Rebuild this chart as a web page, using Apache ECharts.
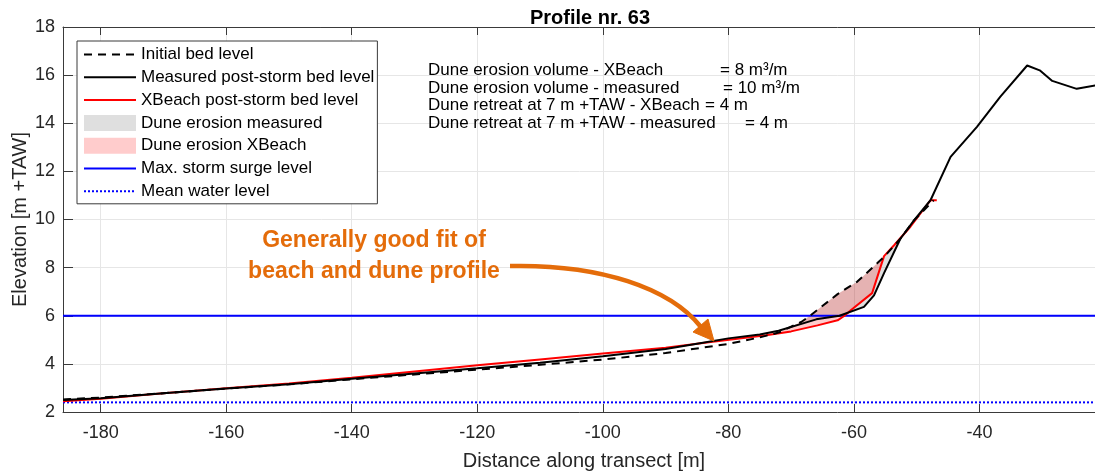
<!DOCTYPE html>
<html>
<head>
<meta charset="utf-8">
<script src="https://cdn.jsdelivr.net/npm/echarts@6/dist/echarts.min.js"></script>
<style>
html,body{margin:0;padding:0;background:#fff;}
#chart{width:1095px;height:474px;}
</style>
</head>
<body>
<div id="chart"></div>
<script>
// ---------- data ----------
const titleText = 'Profile nr. 63';
const xAxisName = 'Distance along transect [m]';
const yAxisName = 'Elevation [m +TAW]';
const xMin = -186, xMax = -20;
const yMin = 2, yMax = 18, yStep = 2;

const initialDist = [-186, -180, -170, -160, -150, -140, -130, -120, -110, -100, -90, -80, -75, -72, -68.4, -67, -62.6, -59.5, -56.3, -55, -52.6, -50.4, -47.3];
const initialElev = [2.52, 2.6, 2.78, 2.97, 3.15, 3.36, 3.56, 3.76, 3.96, 4.18, 4.45, 4.83, 5.1, 5.3, 5.74, 6.0, 6.9, 7.41, 8.18, 8.5, 9.2, 9.97, 10.8];

const measuredDist = [-186, -180, -170, -160, -150, -140, -130, -120, -110, -100, -90, -85, -80, -75, -72, -66, -62.3, -58.4, -56.8, -55.2, -52.6, -50.4, -47.8, -44.6, -40.4, -36.7, -32.4, -30.4, -28.4, -24.5, -20];
const measuredElev = [2.5, 2.57, 2.78, 2.98, 3.15, 3.38, 3.6, 3.82, 4.05, 4.32, 4.62, 4.84, 5.06, 5.22, 5.38, 5.85, 6.0, 6.37, 6.85, 7.77, 9.2, 9.97, 10.8, 12.6, 13.85, 15.1, 16.4, 16.2, 15.76, 15.43, 15.65];

const xbeachDist = [-186, -180, -170, -160, -150, -140, -130, -120, -110, -100, -90, -82.8, -74, -70, -65.8, -62.6, -61.5, -60.5, -57.1, -55.2, -53.6, -51, -47.8, -46.8];
const xbeachElev = [2.45, 2.55, 2.78, 2.99, 3.18, 3.42, 3.68, 3.94, 4.18, 4.43, 4.67, 4.91, 5.19, 5.35, 5.6, 5.81, 6.0, 6.23, 6.94, 8.48, 8.93, 9.7, 10.8, 10.8];

const surgeLevel = 6.0;
const meanWaterLevel = 2.4;

const seriesNames = ['Initial bed level', 'Measured post-storm bed level', 'XBeach post-storm bed level',
  'Dune erosion measured', 'Dune erosion XBeach', 'Max. storm surge level', 'Mean water level'];

const infoLabels = ['Dune erosion volume - XBeach', 'Dune erosion volume - measured',
  'Dune retreat at 7 m +TAW - XBeach', 'Dune retreat at 7 m +TAW - measured'];
const infoValues = ['= 8 m\u00B3/m', '= 10 m\u00B3/m', '= 4 m', '= 4 m'];
const annotationLines = ['Generally good fit of', 'beach and dune profile'];

// ---------- helpers ----------
const FONT = '"Liberation Sans", Arial, Helvetica, sans-serif';
function pairs(xs, ys) { return xs.map((x, i) => [x, ys[i]]); }
function interp(xs, ys, x) {
  if (x <= xs[0]) return ys[0];
  for (let i = 1; i < xs.length; i++) {
    if (x <= xs[i]) {
      const t = (x - xs[i - 1]) / (xs[i] - xs[i - 1]);
      return ys[i - 1] + t * (ys[i] - ys[i - 1]);
    }
  }
  return ys[ys.length - 1];
}
// region where the initial profile lies above a post-storm profile
function erosionOutline(topX, topY, botX, botY, x0, x1) {
  let xs = topX.concat(botX).filter(x => x >= x0 && x <= x1);
  xs.push(x0, x1);
  xs = Array.from(new Set(xs)).sort((a, b) => a - b);
  const full = [];
  for (let i = 0; i < xs.length; i++) {
    const x = xs[i];
    const d = interp(topX, topY, x) - interp(botX, botY, x);
    if (i > 0) {
      const xp = xs[i - 1];
      const dp = interp(topX, topY, xp) - interp(botX, botY, xp);
      if ((dp > 0 && d < 0) || (dp < 0 && d > 0)) full.push(xp + (x - xp) * dp / (dp - d));
    }
    full.push(x);
  }
  const upper = full.map(x => [x, Math.max(interp(topX, topY, x), interp(botX, botY, x))]);
  const lower = full.slice().reverse().map(x => [x, interp(botX, botY, x)]);
  return upper.concat(lower);
}
function fillSeries(name, outline, color) {
  return {
    type: 'custom', name: name, coordinateSystem: 'cartesian2d', silent: true, z: 1,
    itemStyle: { color: color },
    data: [outline[0]],
    renderItem: function (params, api) {
      return { type: 'polygon', shape: { points: outline.map(p => api.coord(p)) }, style: { fill: color } };
    }
  };
}

const lastInit = initialDist[initialDist.length - 1];
const measuredErosion = erosionOutline(initialDist, initialElev, measuredDist, measuredElev, -72, lastInit);
const xbeachErosion = erosionOutline(initialDist, initialElev, xbeachDist, xbeachElev, -72, lastInit);

const chart = echarts.init(document.getElementById('chart'), null, { renderer: 'canvas' });

const axisColor = '#3a3a3a';
const noSymbol = { opacity: 0 };
const option = {
  animation: false,
  backgroundColor: '#ffffff',
  textStyle: { fontFamily: FONT },
  title: {
    text: titleText, left: 585, top: 3, textAlign: 'center',
    textStyle: { fontSize: 20, fontWeight: 'bold', color: '#000', fontFamily: FONT }
  },
  grid: { left: 63, right: -10, top: 27, bottom: 62, containLabel: false, outerBoundsMode: 'none' },
  xAxis: [{
    type: 'value', min: xMin, max: xMax, splitNumber: 8, position: 'bottom',
    name: xAxisName, nameLocation: 'middle', nameGap: 39,
    nameTextStyle: { fontSize: 20, color: '#262626', fontFamily: FONT },
    axisLine: { show: true, onZero: false, lineStyle: { color: axisColor, width: 1 } },
    axisTick: { show: true, inside: true, length: 8, lineStyle: { color: axisColor } },
    axisLabel: { fontSize: 18, color: '#262626', margin: 12, showMinLabel: false, showMaxLabel: false, fontFamily: FONT },
    splitLine: { show: true, lineStyle: { color: '#e6e6e6', width: 1 } }
  }, {
    type: 'value', min: xMin, max: xMax, splitNumber: 8, position: 'top',
    axisLine: { show: true, onZero: false, lineStyle: { color: axisColor, width: 1 } },
    axisTick: { show: true, inside: true, length: 8, lineStyle: { color: axisColor } },
    axisLabel: { show: false },
    splitLine: { show: false }
  }],
  yAxis: {
    type: 'value', min: yMin, max: yMax, interval: yStep,
    name: yAxisName, nameLocation: 'middle', nameGap: 33, nameMoveOverlap: false,
    nameTextStyle: { fontSize: 20, color: '#262626', fontFamily: FONT },
    axisLine: { show: true, onZero: false, lineStyle: { color: axisColor, width: 1 } },
    axisTick: { show: true, inside: true, length: 10, lineStyle: { color: axisColor } },
    axisLabel: { fontSize: 18, color: '#262626', margin: 8, fontFamily: FONT },
    splitLine: { show: true, lineStyle: { color: '#e6e6e6', width: 1 } }
  },
  legend: {
    orient: 'vertical', left: 77, top: 41,
    padding: [5, 3, 4, 6],
    itemWidth: 52, itemHeight: 16, itemGap: 5.8,
    borderColor: '#3a3a3a', borderWidth: 1, backgroundColor: '#ffffff',
    textStyle: { fontSize: 17, color: '#000', fontFamily: FONT },
    z: 10,
    data: [
      { name: seriesNames[0], itemStyle: noSymbol },
      { name: seriesNames[1], itemStyle: noSymbol },
      { name: seriesNames[2], itemStyle: noSymbol },
      { name: seriesNames[3], icon: 'rect' },
      { name: seriesNames[4], icon: 'rect' },
      { name: seriesNames[5], itemStyle: noSymbol },
      { name: seriesNames[6], itemStyle: noSymbol }
    ]
  },
  series: [
    {
      type: 'line', name: seriesNames[0], data: pairs(initialDist, initialElev),
      symbol: 'none', showSymbol: false, z: 4,
      lineStyle: { color: '#000', width: 2, type: [8, 6] }, itemStyle: { color: '#000' }
    },
    {
      type: 'line', name: seriesNames[1], data: pairs(measuredDist, measuredElev),
      symbol: 'none', showSymbol: false, z: 5,
      lineStyle: { color: '#000', width: 2 }, itemStyle: { color: '#000' }
    },
    {
      type: 'line', name: seriesNames[2], data: pairs(xbeachDist, xbeachElev),
      symbol: 'none', showSymbol: false, z: 3,
      lineStyle: { color: '#ff0000', width: 2 }, itemStyle: { color: '#ff0000' }
    },
    fillSeries(seriesNames[3], measuredErosion, 'rgba(110,110,110,0.22)'),
    fillSeries(seriesNames[4], xbeachErosion, 'rgba(255,0,0,0.2)'),
    {
      type: 'line', name: seriesNames[5], data: [[xMin, surgeLevel], [xMax, surgeLevel]],
      symbol: 'none', showSymbol: false, z: 2,
      lineStyle: { color: '#0000ff', width: 2 }, itemStyle: { color: '#0000ff' }
    },
    {
      type: 'line', name: seriesNames[6], data: [[xMin, meanWaterLevel], [xMax, meanWaterLevel]],
      symbol: 'none', showSymbol: false, z: 2,
      lineStyle: { color: '#0000ff', width: 2, type: [2, 2] }, itemStyle: { color: '#0000ff' }
    }
  ],
  graphic: [
    ...infoLabels.map((t, i) => ({
      type: 'text', x: 428, y: [70, 88, 105, 123][i], z: 20,
      style: { text: t, fontSize: 17, fontFamily: FONT, fill: '#000', verticalAlign: 'middle' }
    })),
    ...infoValues.map((t, i) => ({
      type: 'text', x: [720, 723, 705, 745][i], y: [70, 88, 105, 123][i], z: 20,
      style: { text: t, fontSize: 17, fontFamily: FONT, fill: '#000', verticalAlign: 'middle' }
    })),
    {
      type: 'text', x: 374, y: 256, z: 20,
      style: { text: annotationLines.join('\n'), fontSize: 23, fontWeight: 'bold', fontFamily: FONT,
        fill: '#E46C0A', align: 'center', verticalAlign: 'middle', lineHeight: 31 }
    },
    {
      type: 'bezierCurve', z: 20,
      shape: { x1: 510, y1: 266, cpx1: 600, cpy1: 264, cpx2: 670, cpy2: 288, x2: 701, y2: 327 },
      style: { stroke: '#E46C0A', lineWidth: 4.5, fill: null }
    },
    {
      type: 'polygon', z: 20,
      shape: { points: [[714, 341], [693, 332], [708, 319]] },
      style: { fill: '#E46C0A', stroke: '#E46C0A', lineWidth: 1 }
    }
  ]
};
chart.setOption(option);
</script>
</body>
</html>
